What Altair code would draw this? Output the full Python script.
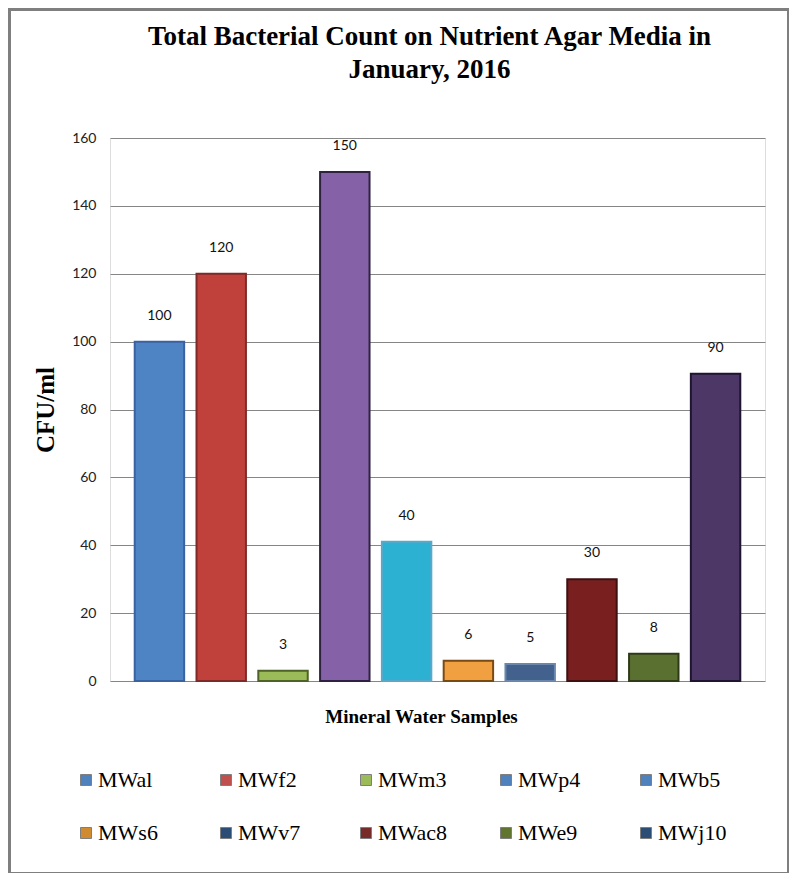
import altair as alt
import pandas as pd

samples = ["MWal", "MWf2", "MWm3", "MWp4", "MWb5", "MWs6", "MWv7", "MWac8", "MWe9", "MWj10"]
values = [100, 120, 3, 150, 41, 6, 5, 30, 8, 90.5]
labels = ["100", "120", "3", "150", "40", "6", "5", "30", "8", "90"]
bar_fill = ["#4F84C4", "#C0403C", "#9BBB59", "#8562A8", "#2DB1D3", "#F0A040",
            "#42618C", "#7A1F1F", "#5A7030", "#4D3767"]
bar_stroke = ["#3A62A0", "#7E2A28", "#4F6228", "#2E2240", "#5AA8C8", "#7A4A14",
              "#6A86AD", "#3E1010", "#2F3B18", "#1E1530"]
legend_colors = ["#4F81BD", "#C0504D", "#9BBB59", "#4F81BD", "#4F81BD", "#D08A30",
                 "#2C4D75", "#772C2A", "#5F7530", "#2C4D75"]
y_ticks = [0, 20, 40, 60, 80, 100, 120, 140, 160]

df = pd.DataFrame({"sample": samples, "value": values, "label": labels,
                   "legend_key": samples})

W, H = 655, 543

x_enc = alt.X("sample:N", sort=samples,
              scale=alt.Scale(paddingInner=0.2, paddingOuter=0.4),
              axis=alt.Axis(labels=False, ticks=False, domain=False, grid=False,
                            title="Mineral Water Samples", titleFont="Liberation Serif",
                            titleFontSize=19, titleFontWeight="bold", titleColor="#000000",
                            titlePadding=26, titleX=311))
y_enc = alt.Y("value:Q", scale=alt.Scale(domain=[0, 160], nice=False),
              axis=alt.Axis(values=y_ticks, ticks=False, domain=False, grid=True,
                            gridColor="#868686", gridWidth=1, labelFont="Lato",
                            labelFontSize=14, labelColor="#222222", labelPadding=14,
                            title="CFU/ml", titleFont="Liberation Serif", titleFontSize=25,
                            titleFontWeight="bold", titleColor="#000000",
                            titleX=-65, titleBaseline="middle"))

bars = alt.Chart(df).mark_bar(strokeWidth=2).encode(
    x=x_enc,
    y=y_enc,
    color=alt.Color("sample:N", scale=alt.Scale(domain=samples, range=bar_fill), legend=None),
    stroke=alt.Stroke("sample:N", scale=alt.Scale(domain=samples, range=bar_stroke), legend=None),
)

text = alt.Chart(df).mark_text(baseline="bottom", dy=-19, font="Lato", fontSize=14,
                               color="#111111").encode(
    x=alt.X("sample:N", sort=samples),
    y=alt.Y("value:Q"),
    text="label:N",
)

legend_layer = alt.Chart(df).mark_point(filled=True, shape="square", size=0).encode(
    x=alt.X("sample:N", sort=samples),
    y=alt.Y("value:Q"),
    color=alt.Color("legend_key:N",
                    scale=alt.Scale(domain=samples, range=legend_colors),
                    legend=alt.Legend(title=None, orient="none", legendX=-35, legendY=631,
                                      direction="horizontal",
                                      columns=5, gridAlign="all", columnPadding=47,
                                      rowPadding=31, symbolType="square", symbolSize=121,
                                      symbolOpacity=1, symbolStrokeWidth=1,
                                      symbolStrokeColor="#7F7F7F",
                                      labelFont="Liberation Serif", labelFontSize=22,
                                      labelColor="#000000", labelOffset=1, padding=0,
                                      labelLimit=200)),
)

frame = alt.Chart(alt.Data(values=[{"a": 1}])).mark_rect(
    filled=False, stroke="#7F7F7F", strokeWidth=3).encode(
    x=alt.value(-100.5), x2=alt.value(678.5), y=alt.value(-128.5), y2=alt.value(735.5))

chart = alt.layer(frame, bars, text, legend_layer).resolve_scale(
    color="independent"
).resolve_legend(color="independent").properties(
    width=W, height=H,
    autosize=alt.AutoSizeParams(type="none"),
    padding={"left": 102, "top": 130, "right": 24, "bottom": 192},
    title=alt.TitleParams(text=["Total Bacterial Count on Nutrient Agar Media in", "January, 2016"],
                          font="Liberation Serif", fontSize=27, fontWeight="bold",
                          color="#000000", anchor="middle", frame="group", offset=-76,
                          dx=-8, lineHeight=33),
).configure_view(stroke=None).configure_legend(
    labelFont="Liberation Serif", labelFontSize=22
).configure(background="#FFFFFF")

chart.save("out.html", embed_options={"renderer": "svg", "actions": False})
